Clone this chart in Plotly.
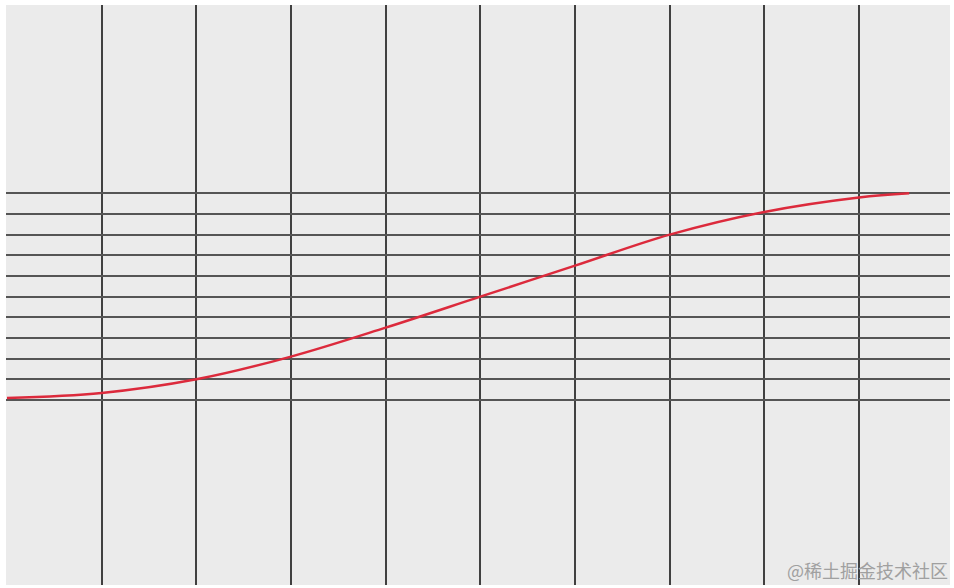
import plotly.graph_objects as go

# data
curve_x = [0, 1, 2, 3, 4, 5, 6, 7, 8, 9, 9.53]
curve_y = [0.1, 0.34, 1.0, 2.1, 3.5, 5.0, 6.5, 8.0, 9.1, 9.8, 10.0]
x_grid = [0, 1, 2, 3, 4, 5, 6, 7, 8, 9]
y_grid = [0, 1, 2, 3, 4, 5, 6, 7, 8, 9, 10]
watermark = "@稀土掘金技术社区"

fig = go.Figure()
fig.add_trace(go.Scatter(
    x=curve_x, y=curve_y, mode="lines",
    line=dict(color="#dc2a3c", width=2.5, shape="spline", smoothing=1.0),
    hoverinfo="skip", showlegend=False,
))

fig.update_layout(
    width=954, height=588,
    margin=dict(l=6, r=4, t=5, b=3),
    paper_bgcolor="#ffffff",
    plot_bgcolor="#ebebeb",
    showlegend=False,
    xaxis=dict(range=[-0.0106, 9.961], tickvals=x_grid, showticklabels=False,
               showgrid=True, gridcolor="#404040", gridwidth=2,
               zeroline=False, showline=False, ticks="", fixedrange=True),
    yaxis=dict(range=[-8.95, 19.11], tickvals=y_grid, showticklabels=False,
               showgrid=True, gridcolor="#555555", gridwidth=2,
               zeroline=False, showline=False, ticks="", fixedrange=True),
    annotations=[dict(
        text=watermark, xref="paper", yref="paper", x=1.0, y=0.0,
        xanchor="right", yanchor="bottom", showarrow=False,
        font=dict(family="Noto Sans CJK SC", size=18, color="#a0a0a0"),
    )],
)

fig.write_html("out.html", config={"displayModeBar": False},
               post_script="document.body.style.margin='0';document.body.style.overflow='hidden';")
